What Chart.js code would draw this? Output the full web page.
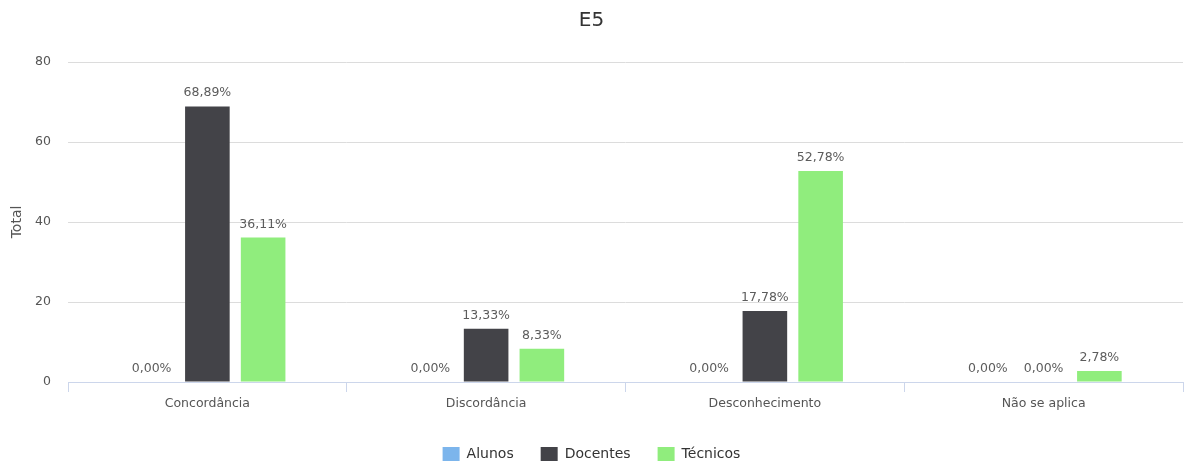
<!DOCTYPE html>
<html>
<head>
<meta charset="utf-8">
<title>E5</title>
<script src="https://cdn.jsdelivr.net/npm/chart.js@4/dist/chart.umd.min.js"></script>
<style>
  html, body { margin: 0; padding: 0; background: #fff; }
  #wrap { width: 1186px; height: 461px; position: relative; }
</style>
</head>
<body>
<div id="wrap"><canvas id="bar-chart"></canvas></div>
<script>
// ---------------------------------------------------
const categories = [ 'Concordância', 'Discordância', 'Desconhecimento', 'Não se aplica' ];
const alunos     = [ 0, 0, 0, 0 ];
const docentes   = [ 68.89, 13.33, 17.78, 0 ];
const tecnicos   = [ 36.11, 8.33, 52.78, 2.78 ];
const yTicks     = [ 0, 20, 40, 60, 80 ];
// ---------------------------------------------------
const FONT = '"DejaVu Sans", "Liberation Sans", sans-serif';

// value labels above each bar, e.g. "68,89%"
const valueLabels = {
    id: 'valueLabels',
    afterDatasetsDraw( chart ) {
        const ctx = chart.ctx;
        ctx.save();
        ctx.font = '12.5px ' + FONT;
        ctx.fillStyle = '#5c5c5c';
        ctx.textAlign = 'center';
        ctx.textBaseline = 'bottom';
        chart.data.datasets.forEach( function ( ds, i ) {
            const meta = chart.getDatasetMeta( i );
            meta.data.forEach( function ( bar, j ) {
                const txt = ds.data[ j ].toFixed( 2 ).replace( '.', ',' ) + '%';
                ctx.fillText( txt, bar.x, bar.y - 7 );
            });
        });
        ctx.restore();
    }
};

window.addEventListener( 'load', function () {
    const data = {
        labels: categories,
        datasets: [
            { label: 'Alunos',   backgroundColor: '#7cb5ec', data: alunos },
            { label: 'Docentes', backgroundColor: '#434348', data: docentes },
            { label: 'Técnicos', backgroundColor: '#90ed7d', data: tecnicos }
        ]
    };
    new Chart( document.querySelector( '#bar-chart' ), {
        type: 'bar',
        data: data,
        plugins: [ valueLabels ],
        options: {
            responsive: true,
            maintainAspectRatio: false,
            animation: false,
            events: [],
            categoryPercentage: 0.6,
            barPercentage: 0.8,
            layout: { padding: { left: 0, right: 3, top: 0, bottom: -10 } },
            plugins: {
                title: {
                    display: true,
                    text: 'E5',
                    color: '#333333',
                    font: { family: FONT, size: 20, weight: 'normal' },
                    padding: { top: 9, bottom: 29 }
                },
                legend: {
                    position: 'bottom',
                    labels: {
                        color: '#333333',
                        font: { family: FONT, size: 14 },
                        boxWidth: 17,
                        boxHeight: 14,
                        padding: 27
                    }
                },
                tooltip: { enabled: false }
            },
            scales: {
                x: {
                    afterFit: function ( scale ) { scale.height += 5; },
                    grid: {
                        display: true,
                        offset: true,
                        drawOnChartArea: false,
                        drawTicks: true,
                        tickLength: 10,
                        color: '#ccd6eb'
                    },
                    border: { display: true, color: '#ccd6eb' },
                    ticks: {
                        color: '#555555',
                        font: { family: FONT, size: 12.5 },
                        padding: 4
                    }
                },
                y: {
                    min: yTicks[ 0 ],
                    max: yTicks[ yTicks.length - 1 ],
                    afterBuildTicks: function ( scale ) {
                        scale.ticks = yTicks.map( function ( v ) { return { value: v }; });
                    },
                    afterFit: function ( scale ) { scale.width = 68; },
                    grid: { color: '#dcdcdc', drawTicks: false },
                    border: { display: false },
                    ticks: {
                        color: '#555555',
                        font: { family: FONT, size: 12.5 },
                        padding: 17
                    },
                    title: {
                        display: true,
                        text: 'Total',
                        color: '#555555',
                        font: { family: FONT, size: 14 },
                        padding: { top: 9, bottom: 0 }
                    }
                }
            }
        }
    });
}, false );
</script>
</body>
</html>
